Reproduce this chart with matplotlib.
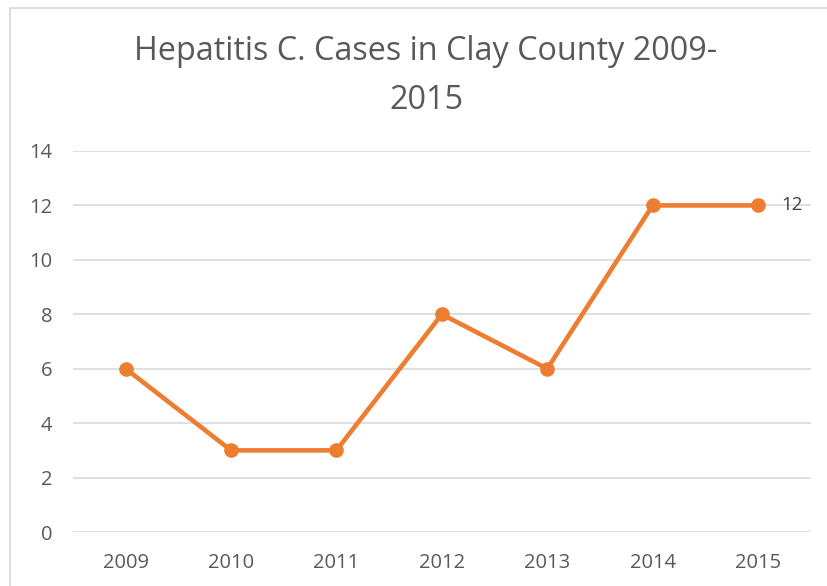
import matplotlib.pyplot as plt
from matplotlib.patches import Rectangle

years = ["2009", "2010", "2011", "2012", "2013", "2014", "2015"]
cases = [6, 3, 3, 8, 6, 12, 12]
y_ticks = [0, 2, 4, 6, 8, 10, 12, 14]

orange = "#ED7D31"
grid_gray = "#D9D9D9"
text_gray = "#595959"

plt.rcParams["font.family"] = ["Open Sans", "DejaVu Sans"]

fig = plt.figure(figsize=(8.27, 5.86), dpi=100)
ax = fig.add_axes([73 / 827, 54 / 586, (810.7 - 73) / 827, (532 - 151) / 586])

# chart border (runs off the right and bottom edges)
fig.patches.append(Rectangle((10 / 827, -0.1), 1.2, 1 - 8 / 586 + 0.1,
                             transform=fig.transFigure, fill=False,
                             edgecolor=grid_gray, linewidth=1.2))

x = list(range(len(years)))
ax.plot(x, cases, color=orange, linewidth=3.3, marker="o", markersize=9.5,
        solid_capstyle="round", zorder=3)
ax.annotate(str(cases[-1]), (x[-1], cases[-1]), xytext=(17, 0),
            textcoords="offset points", va="center", ha="left",
            fontsize=13.5, color="#404040")

ax.set_xlim(-0.5, len(years) - 0.5)
ax.set_ylim(0, 14)
ax.set_yticks(y_ticks)
ax.set_xticks(x)
ax.set_xticklabels(years)
ax.yaxis.grid(True, color=grid_gray, linewidth=1.2)
ax.set_axisbelow(True)
for s in ax.spines.values():
    s.set_visible(False)
ax.tick_params(length=0, labelsize=14.5, labelcolor=text_gray)
ax.tick_params(axis="y", pad=15)
ax.tick_params(axis="x", pad=15)

fig.text(426 / 827, 1 - 76 / 586, "Hepatitis C. Cases in Clay County 2009-\n2015",
         ha="center", va="center", fontsize=23.3, color=text_gray, linespacing=1.62)

fig.savefig("out.png", dpi=100)
